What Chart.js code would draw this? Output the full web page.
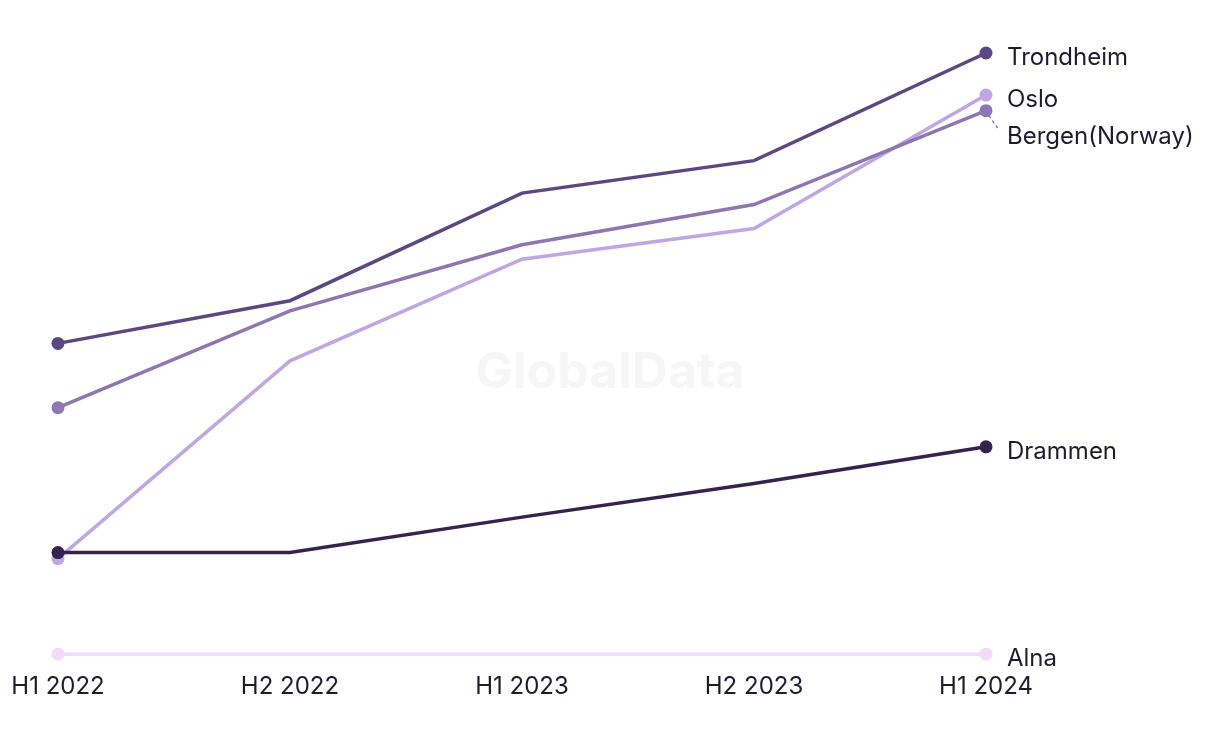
<!DOCTYPE html>
<html>
<head>
<meta charset="utf-8">
<script src="https://cdn.jsdelivr.net/npm/chart.js@4"></script>
<style>
  html, body { margin: 0; padding: 0; background: #fff; }
  #wrap { width: 1220px; height: 744px; position: relative; }
</style>
</head>
<body>
<div id="wrap"><canvas id="chart"></canvas></div>
<script>
const periods = ["H1 2022", "H2 2022", "H1 2023", "H2 2023", "H1 2024"];

const trondheim = [51.7, 58.8, 76.7, 82.1, 100];
const bergen = [41.0, 57.1, 68.1, 74.8, 90.4];
const oslo = [15.9, 48.8, 65.7, 70.8, 93.0];
const drammen = [16.9, 16.9, 22.8, 28.4, 34.5];
const alna = [0, 0, 0, 0, 0];

const textColor = "#1e1b2e";
const fontFamily = "Inter, 'Noto Sans', sans-serif";

function makeSet(label, data, color) {
    const last = data.length - 1;
    return {
        label: label,
        data: data,
        borderColor: color,
        backgroundColor: color,
        borderWidth: 3.5,
        tension: 0,
        clip: false,
        pointRadius: ctx => (ctx.dataIndex === 0 || ctx.dataIndex === last) ? 6.5 : 0,
        pointHoverRadius: 0,
        pointBorderWidth: 0
    };
}

// watermark behind the lines
const watermark = {
    id: "watermark",
    beforeDatasetsDraw(chart) {
        const ctx = chart.ctx;
        ctx.save();
        ctx.font = "bold 50px " + fontFamily;
        ctx.fillStyle = "#f6f6f6";
        ctx.textAlign = "center";
        ctx.textBaseline = "middle";
        ctx.fillText("GlobalData", chart.width / 2, 373);
        ctx.restore();
    }
};

// series names at the end of each line, pushed apart when they collide
const endLabels = {
    id: "endLabels",
    afterDatasetsDraw(chart) {
        const ctx = chart.ctx;
        const items = chart.data.datasets.map((ds, i) => {
            const meta = chart.getDatasetMeta(i);
            const pt = meta.data[meta.data.length - 1];
            return { text: ds.label, color: ds.borderColor, x: pt.x, y: pt.y };
        }).sort((a, b) => a.y - b.y);

        let prev = -Infinity;
        items.forEach(it => {
            it.ly = Math.max(it.y + 5, prev + 36.5);
            prev = it.ly;
        });

        ctx.save();
        items.forEach(it => {
            if (it.ly - it.y > 12) {
                ctx.strokeStyle = it.color;
                ctx.lineWidth = 1.5;
                ctx.setLineDash([3, 3]);
                ctx.beginPath();
                ctx.moveTo(it.x + 3, it.y + 5);
                ctx.lineTo(it.x + 12, it.ly - 8);
                ctx.stroke();
                ctx.setLineDash([]);
            }
            ctx.font = "24px " + fontFamily;
            ctx.fillStyle = textColor;
            ctx.textAlign = "left";
            ctx.textBaseline = "middle";
            ctx.fillText(it.text, it.x + 21, it.ly);
        });
        ctx.restore();
    }
};

new Chart(document.getElementById("chart"), {
    type: "line",
    data: {
        labels: periods,
        datasets: [
            makeSet("Drammen", drammen, "#34224f"),
            makeSet("Trondheim", trondheim, "#5c4880"),
            makeSet("Bergen(Norway)", bergen, "#8e76b1"),
            makeSet("Oslo", oslo, "#c1a6e4"),
            makeSet("Alna", alna, "#f1dafa")
        ]
    },
    options: {
        responsive: true,
        maintainAspectRatio: false,
        animation: false,
        layout: { padding: { left: 58, right: 234, top: 53, bottom: 25 } },
        plugins: {
            legend: { display: false },
            tooltip: { enabled: false }
        },
        scales: {
            x: {
                offset: false,
                grid: { display: false, drawTicks: false },
                border: { display: false },
                afterFit: scale => {
                    scale.paddingLeft = 0;
                    scale.paddingRight = 0;
                },
                ticks: {
                    color: textColor,
                    padding: 18,
                    maxRotation: 0,
                    autoSkip: false,
                    font: { family: fontFamily, size: 24 }
                }
            },
            y: {
                display: false,
                min: 0,
                max: 100
            }
        }
    },
    plugins: [watermark, endLabels]
});
</script>
</body>
</html>
